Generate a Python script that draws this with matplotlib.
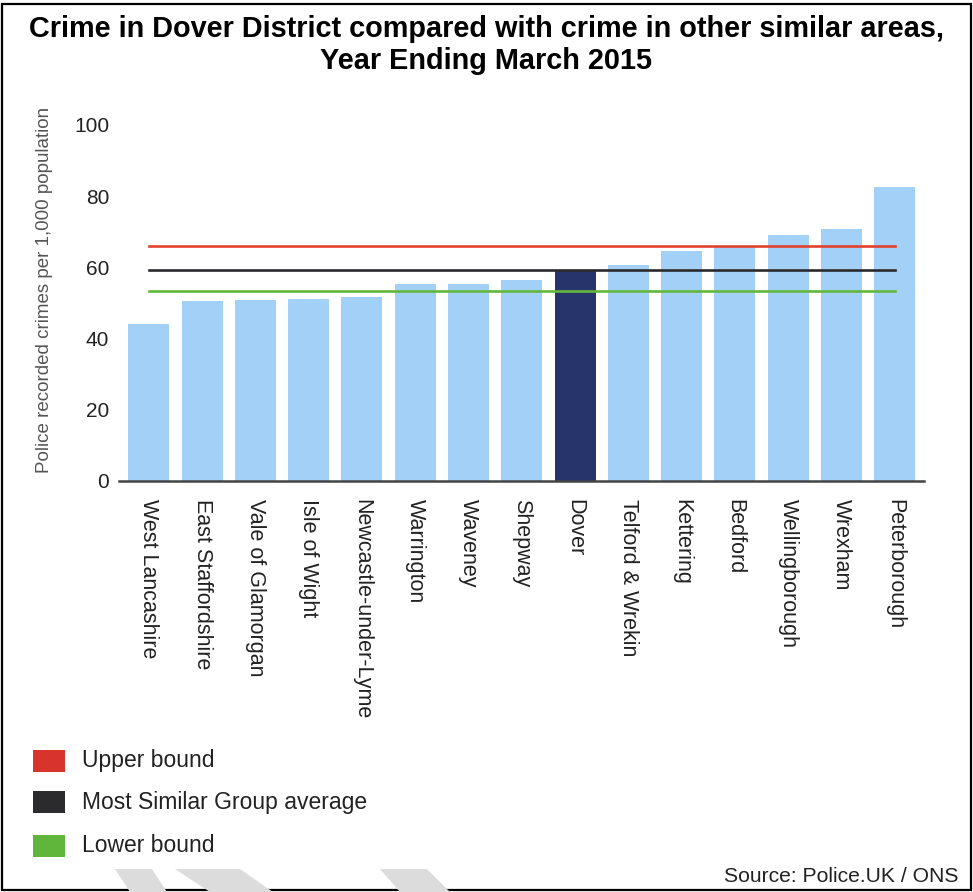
import matplotlib
matplotlib.use("Agg")
import matplotlib.pyplot as plt
from matplotlib.patches import Rectangle, Polygon

plt.rcParams['font.family'] = ['Liberation Sans', 'DejaVu Sans']

# ---- data ----
areas = ["West Lancashire", "East Staffordshire", "Vale of Glamorgan", "Isle of Wight",
         "Newcastle-under-Lyme", "Warrington", "Waveney", "Shepway", "Dover",
         "Telford & Wrekin", "Kettering", "Bedford", "Wellingborough", "Wrexham",
         "Peterborough"]
crime_rates = [44.0, 50.6, 50.8, 51.2, 51.6, 55.2, 55.4, 56.4, 59.4,
               60.7, 64.7, 66.0, 69.1, 70.9, 82.6]
highlight_area = "Dover"
upper_bound = 65.9
msg_average = 59.4
lower_bound = 53.5
y_ticks = [0, 20, 40, 60, 80, 100]
legend_labels = ["Upper bound", "Most Similar Group average", "Lower bound"]

title_lines = ["Crime in Dover District compared with crime in other similar areas,",
               "Year Ending March 2015"]
ylabel = "Police recorded crimes per 1,000 population"
source = "Source: Police.UK / ONS"

# ---- styles ----
W, H = 973, 892
bar_color = "#a3d0f6"
hi_color = "#27336b"
red = "#e2412f"
black = "#2a2a2e"
green = "#62b83c"

fig = plt.figure(figsize=(W / 100, H / 100), dpi=100)
fig.patch.set_facecolor("white")

def fx(px):
    return px / W

def fy(py):
    return 1 - py / H

# outer border
fig.add_artist(Rectangle((fx(2), fy(890)), fx(969), 886 / H, transform=fig.transFigure,
                         fill=False, edgecolor="black", linewidth=1.6))

# watermark shapes
wm = [[(115, 869), (152, 869), (167, 892), (130, 892)],
      [(175, 869), (240, 869), (273, 892), (210, 892)],
      [(380, 869), (427, 869), (450, 892), (400, 892)]]
for poly in wm:
    fig.add_artist(Polygon([(fx(x), fy(y)) for x, y in poly], closed=True,
                           transform=fig.transFigure, facecolor="#dcdcdc",
                           edgecolor="none"))

ax = fig.add_axes([fx(119), fy(481), fx(924) - fx(119), (481 - 125) / H])
x = list(range(len(areas)))
colors = [hi_color if a == highlight_area else bar_color for a in areas]
ax.bar(x, crime_rates, width=0.77, color=colors, zorder=2)

for val, col in [(upper_bound, red), (msg_average, black), (lower_bound, green)]:
    ax.plot([x[0], x[-1]], [val, val], color=col, linewidth=1.9, zorder=3)

ax.set_xlim(-0.56, len(areas) - 1 + 0.55)
ax.set_ylim(0, 100)
ax.set_yticks(y_ticks)
ax.set_yticklabels([str(t) for t in y_ticks], fontsize=15, color="#222222")
ax.set_xticks(x)
ax.set_xticklabels(areas, rotation=-90, ha="center", va="top", fontsize=15.5,
                   color="#222222")
ax.tick_params(axis="y", length=0, pad=7)
ax.tick_params(axis="x", length=0, pad=13)
for s in ["top", "right", "left"]:
    ax.spines[s].set_visible(False)
ax.spines["bottom"].set_color("#444444")
ax.spines["bottom"].set_linewidth(1.8)
ax.spines["bottom"].set_zorder(4)

fig.text(fx(45), fy(290), ylabel, rotation=90, ha="center", va="center",
         fontsize=13.5, color="#555555")

for line, base in zip(title_lines, [37, 69]):
    fig.text(0.5, fy(base), line, ha="center", va="baseline", fontsize=20.8,
             fontweight="bold", color="black")

legend_colors = ["#d9342b", "#2b2b2e", "#5fb63a"]
legend_y = [761, 802, 846]
for lab, col, yy in zip(legend_labels, legend_colors, legend_y):
    fig.add_artist(Rectangle((fx(33), fy(yy + 11)), fx(32), 22 / H,
                             transform=fig.transFigure, facecolor=col,
                             edgecolor="none"))
    fig.text(fx(82), fy(yy), lab, ha="left", va="center", fontsize=16.5,
             color="#222222")

fig.text(fx(958), fy(877), source, ha="right", va="center", fontsize=15.2,
         color="#222222")

fig.savefig("out.png", dpi=100, facecolor="white")
